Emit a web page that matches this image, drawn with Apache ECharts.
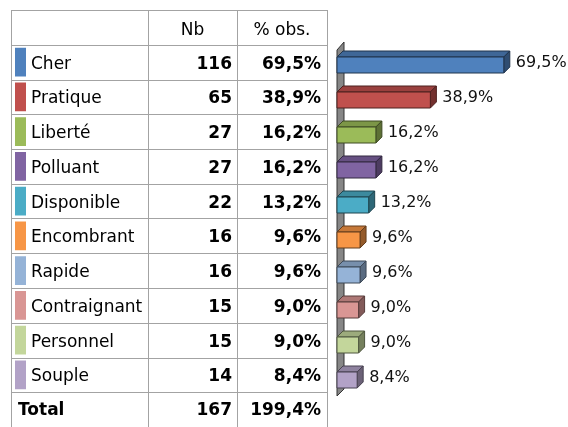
<!DOCTYPE html>
<html>
<head>
<meta charset="utf-8">
<script src="https://cdn.jsdelivr.net/npm/echarts@6/dist/echarts.min.js"></script>
<style>
  html, body { margin: 0; padding: 0; background: #fff; }
  #main { width: 568px; height: 427px; }
</style>
</head>
<body>
<div id="main"></div>
<script>
var categories = ['Cher', 'Pratique', 'Liberté', 'Polluant', 'Disponible', 'Encombrant', 'Rapide', 'Contraignant', 'Personnel', 'Souple'];
var counts = [116, 65, 27, 27, 22, 16, 16, 15, 15, 14];
var percents = [69.5, 38.9, 16.2, 16.2, 13.2, 9.6, 9.6, 9.0, 9.0, 8.4];
var totalLabel = 'Total';
var totalCount = 167;
var totalPercent = 199.4;
var headers = ['', 'Nb', '% obs.'];
var colors = ['#4F81BD', '#C0504D', '#9BBB59', '#8064A2', '#4BACC6', '#F79646', '#95B3D7', '#D99694', '#C3D69B', '#B2A2C7'];

// table column edges (in px along the table's x axis)
var colEdges = [0, 137, 226, 316];
var FONT = '"DejaVu Sans"';

function fmtPct(v) {
  return v.toFixed(1).replace('.', ',') + '%';
}

function shade(hex, k) {
  var n = parseInt(hex.slice(1), 16);
  var r = Math.round(((n >> 16) & 255) * k);
  var g = Math.round(((n >> 8) & 255) * k);
  var b = Math.round((n & 255) * k);
  return 'rgb(' + r + ',' + g + ',' + b + ')';
}

var rowNames = ['header'].concat(categories, [totalLabel]);
var tableRows = rowNames.map(function (n, i) { return [0, i]; });

function crisp(v) { return Math.round(v) + 0.5; }

function renderRow(params, api) {
  var i = api.value(1);
  var cs = params.coordSys;
  var cy = api.coord([0, i])[1];
  var h = api.size([0, 1])[1];
  var top = cy - h / 2;
  var lineStyle = { stroke: '#a3a3a3', lineWidth: 1 };
  var kids = [];
  kids.push({ type: 'line', shape: { x1: cs.x, y1: crisp(top), x2: cs.x + cs.width + 1, y2: crisp(top) }, style: lineStyle });
  if (i === rowNames.length - 1) {
    kids.push({ type: 'line', shape: { x1: cs.x, y1: crisp(top + h), x2: cs.x + cs.width + 1, y2: crisp(top + h) }, style: lineStyle });
  }
  var xs = colEdges.map(function (e) { return api.coord([e, i])[0]; });
  xs.forEach(function (x) {
    kids.push({ type: 'line', shape: { x1: crisp(x), y1: top, x2: crisp(x), y2: top + h + 1 }, style: lineStyle });
  });
  var tf = function (bold) { return (bold ? 'bold ' : '') + '17px ' + FONT; };
  if (i === 0) {
    kids.push({ type: 'text', x: (xs[1] + xs[2]) / 2, y: cy + 3, style: { text: headers[1], font: tf(false), fill: '#000', align: 'center', verticalAlign: 'middle' } });
    kids.push({ type: 'text', x: (xs[2] + xs[3]) / 2, y: cy + 3, style: { text: headers[2], font: tf(false), fill: '#000', align: 'center', verticalAlign: 'middle' } });
  } else if (i <= categories.length) {
    var k = i - 1;
    kids.push({ type: 'rect', shape: { x: xs[0] + 4, y: top + 3, width: 11, height: h - 6 }, style: { fill: colors[k] } });
    kids.push({ type: 'text', x: xs[0] + 20, y: cy + 2, style: { text: categories[k], font: tf(false), fill: '#000', verticalAlign: 'middle' } });
    kids.push({ type: 'text', x: xs[2] - 5, y: cy + 2, style: { text: String(counts[k]), font: tf(true), fill: '#000', align: 'right', verticalAlign: 'middle' } });
    kids.push({ type: 'text', x: xs[3] - 6, y: cy + 2, style: { text: fmtPct(percents[k]), font: tf(true), fill: '#000', align: 'right', verticalAlign: 'middle' } });
  } else {
    kids.push({ type: 'text', x: xs[0] + 7, y: cy + 1, style: { text: totalLabel, font: tf(true), fill: '#000', verticalAlign: 'middle' } });
    kids.push({ type: 'text', x: xs[2] - 5, y: cy + 1, style: { text: String(totalCount), font: tf(true), fill: '#000', align: 'right', verticalAlign: 'middle' } });
    kids.push({ type: 'text', x: xs[3] - 6, y: cy + 1, style: { text: fmtPct(totalPercent), font: tf(true), fill: '#000', align: 'right', verticalAlign: 'middle' } });
  }
  return { type: 'group', children: kids };
}

var DEPTH = 6;

function renderWall(params, api) {
  var cs = params.coordSys;
  var x0 = cs.x, w = 7;
  var yT = cs.y + 5, yB = cs.y + cs.height + 1;
  return {
    type: 'polygon',
    shape: { points: [[x0, yT], [x0 + w, yT - 8], [x0 + w, yB - 7], [x0, yB]] },
    style: { fill: '#868686', stroke: '#333', lineWidth: 1 }
  };
}

function renderBar(params, api) {
  var i = api.value(1);
  var v = api.value(0);
  var end = api.coord([v, i]);
  var start = api.coord([0, i]);
  var c = end[1];
  var y0 = c - 5.5, y1 = c + 10.5;
  var x0 = start[0], x1 = end[0];
  var d = DEPTH;
  var col = colors[i];
  var edge = shade(col, 0.4);
  return {
    type: 'group',
    children: [
      { type: 'polygon', shape: { points: [[x0, y0], [x0 + d, y0 - d], [x1 + d, y0 - d], [x1, y0]] },
        style: { fill: shade(col, 0.8), stroke: edge, lineWidth: 1 } },
      { type: 'polygon', shape: { points: [[x1, y0], [x1 + d, y0 - d], [x1 + d, y1 - d], [x1, y1]] },
        style: { fill: shade(col, 0.6), stroke: edge, lineWidth: 1 } },
      { type: 'rect', shape: { x: x0, y: y0, width: x1 - x0, height: y1 - y0 },
        style: { fill: col, stroke: edge, lineWidth: 1 } },
      { type: 'text', x: x1 + 12, y: c, style: { text: fmtPct(v), font: '16px ' + FONT, fill: '#111', verticalAlign: 'middle' } }
    ]
  };
}

var chart = echarts.init(document.getElementById('main'), null, { renderer: 'canvas' });
var option = {
  animation: false,
  backgroundColor: '#fff',
  grid: [
    { left: 11, top: 10, width: 316, height: 420 },
    { left: 337, top: 45, width: 192, height: 350 }
  ],
  xAxis: [
    { type: 'value', gridIndex: 0, min: 0, max: 316, show: false },
    { type: 'value', gridIndex: 1, min: 0, max: 80, show: false }
  ],
  yAxis: [
    { type: 'category', gridIndex: 0, data: rowNames, inverse: true, show: false },
    { type: 'category', gridIndex: 1, data: categories, inverse: true, show: false }
  ],
  series: [
    { type: 'custom', xAxisIndex: 0, yAxisIndex: 0, renderItem: renderRow, data: tableRows, silent: true },
    { type: 'custom', xAxisIndex: 1, yAxisIndex: 1, renderItem: renderWall, data: [[0, 0]], silent: true, z: 1 },
    { type: 'custom', xAxisIndex: 1, yAxisIndex: 1, renderItem: renderBar, z: 2,
      data: percents.map(function (v, i) { return [v, i]; }) }
  ]
};
chart.setOption(option);
</script>
</body>
</html>
